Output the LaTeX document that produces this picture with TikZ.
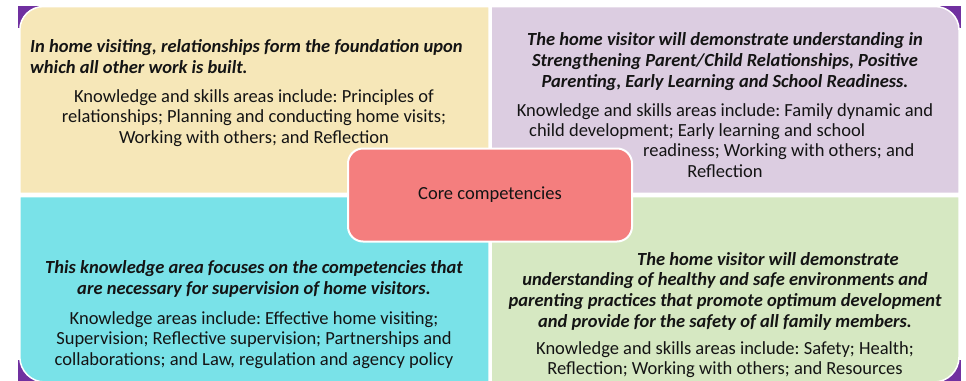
\documentclass[tikz,border=0pt]{standalone}
\usepackage{fontspec}
\setmainfont{Carlito}
\frenchspacing
\definecolor{purp}{HTML}{7030A0}
\definecolor{yel}{HTML}{F6E7B8}
\definecolor{lav}{HTML}{DCCDE1}
\definecolor{cya}{HTML}{79E2E8}
\definecolor{gre}{HTML}{D6E8C2}
\definecolor{pnk}{HTML}{F47E7E}
\definecolor{ink}{HTML}{141414}
\begin{document}
\begin{tikzpicture}[x=1pt,y=-1pt,
  quad/.style={draw=white,line width=1.5pt},
  txt/.style={inner sep=0pt,text=ink,font=\fontsize{18.5}{20.6}\selectfont},
  head/.style={txt,font=\fontsize{18.5}{20.6}\selectfont\bfseries\itshape},
  corebox/.style={draw=white,line width=2pt,fill=pnk,rounded corners=15pt,
    minimum width=284pt,minimum height=93pt,inner sep=0pt,text=ink,
    font=\fontsize{18.5}{20}\selectfont}]
\useasboundingbox (0,0) rectangle (966,380);
\clip (0,0) rectangle (966,380);
% purple corners behind the rounded outer corners
\fill[purp] (18.3,6) rectangle (40,28);
\fill[purp] (938,6) rectangle (960.5,28);
\fill[purp] (18.3,360) rectangle (41,382);
\fill[purp] (937,360) rectangle (960.5,382);
% quadrants
\filldraw[quad,fill=yel] (489,193.3) -- (19.8,193.3) -- (19.8,30) .. controls (19.8,16.8) and (30.6,6.5) .. (43.8,6.5) -- (489,6.5) -- cycle;
\filldraw[quad,fill=lav] (491,193.3) -- (491,6.5) -- (935,6.5) .. controls (948.2,6.5) and (959,16.8) .. (959,30) -- (959,193.3) -- cycle;
\filldraw[quad,fill=cya] (19.8,196.6) -- (489,196.6) -- (489,382) -- (44.8,382) .. controls (31,382) and (19.8,370.8) .. (19.8,357) -- cycle;
\filldraw[quad,fill=gre] (491,196.6) -- (959,196.6) -- (959,357) .. controls (959,370.8) and (947.8,382) .. (934,382) -- (491,382) -- cycle;
% core
\node[corebox] (core) at (490,195) {Core competencies};
% yellow
\node[head,anchor=west,align=left] (y1) at (30,56.5) {In home visiting, relationships form the foundation upon\\which all other work is built.};
\node[txt,align=center] (y2) at (254,118) {Knowledge and skills areas include: Principles of\\relationships; Planning and conducting home visits;\\Working with others; and Reflection};
% lavender
\node[head,align=center] (l1) at (725,61.5) {The home visitor will demonstrate understanding in\\Strengthening Parent/Child Relationships, Positive\\Parenting, Early Learning and School Readiness.};
\node[txt] (l2) at (725,111.5) {Knowledge and skills areas include: Family dynamic and};
\node[txt,anchor=west] (l3) at (529,131.5) {child development; Early learning and school};
\node[txt,anchor=west] (l4) at (643,151.5) {readiness; Working with others; and};
\node[txt] (l5) at (725,171.5) {Reflection};
% cyan
\node[head,align=center] (c1) at (254,279) {This knowledge area focuses on the competencies that\\are necessary for supervision of home visitors.};
\node[txt,align=center] (c2) at (254,340) {Knowledge areas include: Effective home visiting;\\Supervision; Reflective supervision; Partnerships and\\collaborations; and Law, regulation and agency policy};
% green
\node[head,anchor=west] (g1) at (637,259.5) {The home visitor will demonstrate};
\node[head,align=center] (g2) at (725,301.5) {understanding of healthy and safe environments and\\parenting practices that promote optimum development\\and provide for the safety of all family members.};
\node[txt,align=center] (g3) at (725,359.5) {Knowledge and skills areas include: Safety; Health;\\Reflection; Working with others; and Resources};
\end{tikzpicture}
\end{document}
